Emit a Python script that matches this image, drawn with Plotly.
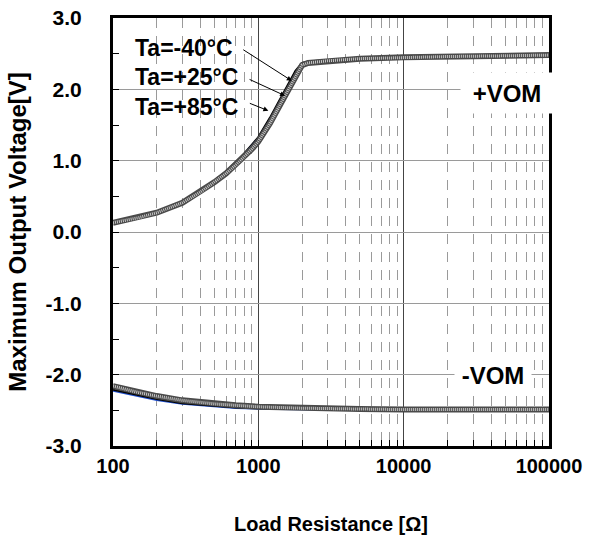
import plotly.graph_objects as go
import math

# ---- data ----
r_pos = [100, 150, 200, 300, 400, 500, 600, 700, 800, 900, 1000, 1200, 1500, 1800, 2000, 2200, 3000, 5000, 10000, 20000, 50000, 100000]
vom_pos_m40 = [0.14, 0.21, 0.28, 0.42, 0.58, 0.72, 0.85, 0.98, 1.10, 1.22, 1.33, 1.60, 1.97, 2.26, 2.37, 2.39, 2.41, 2.43, 2.45, 2.46, 2.47, 2.48]
vom_pos_25 = [0.14, 0.21, 0.28, 0.42, 0.58, 0.72, 0.85, 0.97, 1.09, 1.20, 1.31, 1.57, 1.93, 2.22, 2.36, 2.38, 2.41, 2.43, 2.45, 2.46, 2.47, 2.48]
vom_pos_85 = [0.13, 0.20, 0.27, 0.41, 0.56, 0.70, 0.82, 0.94, 1.05, 1.16, 1.27, 1.52, 1.88, 2.18, 2.34, 2.37, 2.40, 2.43, 2.45, 2.46, 2.47, 2.48]

r_neg = [100, 150, 200, 300, 500, 700, 1000, 2000, 5000, 10000, 100000]
vom_neg_m40 = [-2.23, -2.31, -2.36, -2.41, -2.45, -2.47, -2.48, -2.49, -2.50, -2.50, -2.50]
vom_neg_25 = [-2.21, -2.29, -2.34, -2.40, -2.44, -2.46, -2.47, -2.48, -2.49, -2.49, -2.49]
vom_neg_85 = [-2.16, -2.25, -2.30, -2.36, -2.41, -2.43, -2.45, -2.47, -2.48, -2.49, -2.49]

x_tickvals = [100, 1000, 10000, 100000]
x_ticktext = ["100", "1000", "10000", "100000"]
y_tickvals = [3, 2, 1, 0, -1, -2, -3]
y_ticktext = ["3.0", "2.0", "1.0", "0.0", "-1.0", "-2.0", "-3.0"]
temp_labels = ["Ta=-40°C", "Ta=+25°C", "Ta=+85°C"]

FONT = "Liberation Sans, Arial, sans-serif"
BOLD = lambda s: dict(family=FONT, size=s, color="black", weight="bold")

fig = go.Figure()

def hatched(x, y):
    fig.add_trace(go.Scatter(x=x, y=y, mode="lines", line=dict(color="#4a4a4a", width=6), showlegend=False, hoverinfo="skip"))
    fig.add_trace(go.Scatter(x=x, y=y, mode="lines", line=dict(color="#c8c8c8", width=3, dash="1px,1px"), showlegend=False, hoverinfo="skip"))

# negative side
fig.add_trace(go.Scatter(x=r_neg, y=vom_neg_m40, mode="lines", line=dict(color="#1f4fd0", width=1.5), showlegend=False))
fig.add_trace(go.Scatter(x=r_neg, y=vom_neg_25, mode="lines", line=dict(color="black", width=2), showlegend=False))
hatched(r_neg, vom_neg_85)

# positive side
fig.add_trace(go.Scatter(x=r_pos, y=vom_pos_m40, mode="lines", line=dict(color="black", width=2), showlegend=False))
fig.add_trace(go.Scatter(x=r_pos, y=vom_pos_25, mode="lines", line=dict(color="#1f4fd0", width=1.5), showlegend=False))
hatched(r_pos, vom_pos_85)

annotations = []
label_y = [0.930, 0.862, 0.793]
for t, yy in zip(temp_labels, label_y):
    annotations.append(dict(text=t, xref="paper", yref="paper", x=0.046, y=yy, xanchor="left", yanchor="middle",
                            showarrow=False, font=BOLD(23)))
arrow_heads = [(1698, 2.12, -50, -32), (1528, 1.91, -37, -17), (1172, 1.70, -20, -8)]
for hx, hy, ax, ay in arrow_heads:
    annotations.append(dict(x=math.log10(hx), y=hy, xref="x", yref="y", ax=ax, ay=ay, axref="pixel", ayref="pixel",
                            text="", showarrow=True, arrowhead=2, arrowsize=1, arrowwidth=1, arrowcolor="black"))
annotations.append(dict(text="+VOM", x=4.712, y=1.944, xref="x", yref="y", showarrow=False, width=90, height=38,
                        bgcolor="white", font=BOLD(24)))
annotations.append(dict(text="-VOM", x=4.615, y=-2.0, xref="x", yref="y", showarrow=False, width=74, height=32,
                        bgcolor="white", font=BOLD(24)))

fig.update_layout(
    width=592, height=541,
    margin=dict(l=113, r=43, t=18, b=95),
    paper_bgcolor="white", plot_bgcolor="white",
    font=dict(family=FONT, size=20, color="black"),
    annotations=annotations,
    showlegend=False,
)

fig.update_xaxes(
    type="log", range=[2, 5], automargin=False,
    tickvals=x_tickvals, ticktext=x_ticktext,
    tickfont=BOLD(20), ticklabeloverflow="allow",
    ticks="inside", ticklen=6, tickcolor="black",
    showgrid=True, gridcolor="#444444", gridwidth=1,
    minor=dict(dtick="D1", ticks="inside", ticklen=6, tickcolor="black",
               showgrid=True, gridcolor="#9a9a9a", griddash="10px,8px", gridwidth=1),
    showline=True, linecolor="black", linewidth=3, mirror=True,
    zeroline=False,
    ticklabelstandoff=0,
    title=dict(text="Load Resistance [Ω]", font=BOLD(20), standoff=41),
)
fig.update_yaxes(
    range=[-3, 3], automargin=False,
    tickvals=y_tickvals, ticktext=y_ticktext,
    tickfont=BOLD(21), ticklabeloverflow="allow",
    ticks="inside", ticklen=6, tickcolor="black",
    showgrid=True, gridcolor="#9a9a9a", gridwidth=1,
    minor=dict(dtick=0.5, ticks="inside", ticklen=6, tickcolor="black", showgrid=False),
    showline=True, linecolor="black", linewidth=3, mirror=True,
    zeroline=False,
    ticklabelstandoff=24,
    title=dict(text="Maximum Output Voltage[V]", font=BOLD(24), standoff=13),
)

fig.write_html("out.html", config={"displayModeBar": False},
               post_script="document.body.style.margin='0';document.body.style.overflow='hidden';")
